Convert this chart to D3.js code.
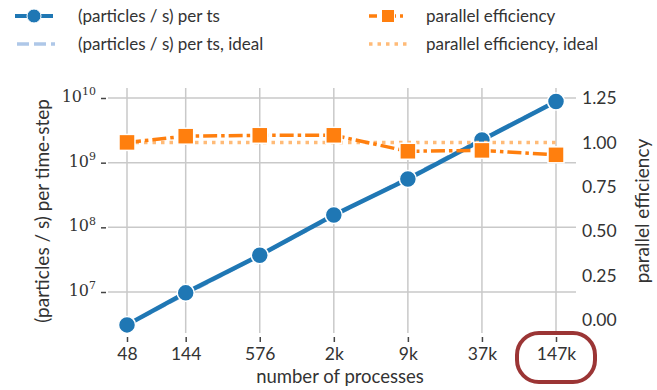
<!DOCTYPE html>
<html><head><meta charset="utf-8">
<script src="https://cdn.jsdelivr.net/npm/d3@7"></script>
<style>
body{margin:0;background:#fff;}
svg{display:block;}
text{font-family:"Lato","Liberation Sans",sans-serif;fill:#333;}
</style></head>
<body>
<svg id="chart" width="657" height="390"></svg>
<script>
// ---- data ----
const procs = [48, 144, 576, 2304, 9216, 36864, 147456];
const procLabels = ["48", "144", "576", "2k", "9k", "37k", "147k"];
const rate = [3.1e6, 9.7e6, 3.7e7, 1.55e8, 5.6e8, 2.25e9, 8.8e9];
const rateIdeal = [3.1e6, 9.3e6, 3.7e7, 1.5e8, 5.8e8, 2.3e9, 8.9e9];
const eff = [1.0, 1.035, 1.04, 1.04, 0.95, 0.955, 0.93];
const effIdeal = [1, 1, 1, 1, 1, 1, 1];
const leftTicks = [1e7, 1e8, 1e9, 1e10];
const leftTickExp = ["7", "8", "9", "10"];
const rightTicks = [0, 0.25, 0.5, 0.75, 1.0, 1.25];

const svg = d3.select("#chart");
const blue = "#1f77b4", orange = "#ff7f0e", lblue = "#aec7e8", lorange = "#ffbb78";

const x = d3.scaleLog().domain([48, 147456]).range([127, 556]);
const yL = d3.scaleLog().domain([1e7, 1e10]).range([292, 98]);
const yR = d3.scaleLinear().domain([0, 1.25]).range([320, 98]);

const plotTop = 88, plotBottom = 333, plotLeft = 108, plotRight = 576;

// grid
const grid = svg.append("g");
grid.selectAll("line.v").data(procs).join("line")
  .attr("x1", d => x(d)).attr("x2", d => x(d))
  .attr("y1", plotTop).attr("y2", plotBottom)
  .attr("stroke", "#c9c9c9").attr("stroke-width", 1.5);
grid.selectAll("line.h").data(leftTicks).join("line")
  .attr("x1", plotLeft).attr("x2", plotRight)
  .attr("y1", d => yL(d)).attr("y2", d => yL(d))
  .attr("stroke", "#c9c9c9").attr("stroke-width", 1.5);

// x axis (offset ticks)
const xAxis = d3.axisBottom(x).tickValues(procs).tickFormat((d, i) => procLabels[i]).tickSize(5).tickPadding(6);
const gx = svg.append("g").attr("transform", `translate(0,${337})`).call(xAxis);
gx.select(".domain").remove();
gx.selectAll(".tick line").attr("stroke", "#444").attr("stroke-width", 1.5);
gx.selectAll(".tick text").attr("font-size", 17.5).attr("fill", "#333").attr("font-family", "Lato, sans-serif");

// left axis
const yAxisL = d3.axisLeft(yL).tickValues(leftTicks).tickFormat("").tickSize(5);
const gyl = svg.append("g").attr("transform", `translate(${106},0)`).call(yAxisL);
gyl.select(".domain").remove();
gyl.selectAll(".tick line").attr("stroke", "#444").attr("stroke-width", 1.5);
gyl.selectAll(".tick").each(function(d, i) {
  const t = d3.select(this).append("text").attr("x", -10).attr("dy", "0.35em")
    .attr("text-anchor", "end").attr("fill", "#333")
    .style("font-family", "'DejaVu Serif','Liberation Serif',serif");
  t.append("tspan").attr("font-size", 16).text("10");
  t.append("tspan").attr("font-size", 11).attr("dy", "-0.6em").text(leftTickExp[i]);
});

// right axis
const yAxisR = d3.axisRight(yR).tickValues(rightTicks).tickFormat(d3.format(".2f")).tickSize(0).tickPadding(6);
const gyr = svg.append("g").attr("transform", `translate(${576},0)`).call(yAxisR);
gyr.select(".domain").remove();
gyr.selectAll(".tick text").attr("font-size", 17.5).attr("fill", "#333").attr("font-family", "Lato, sans-serif");

// axis titles
svg.append("text").attr("x", 340).attr("y", 383).attr("text-anchor", "middle").attr("font-size", 18.5).text("number of processes");
svg.append("text").attr("transform", "translate(49,211) rotate(-90)").attr("text-anchor", "middle").attr("font-size", 19).text("(particles / s) per time-step");
svg.append("text").attr("transform", "translate(649,211) rotate(-90)").attr("text-anchor", "middle").attr("font-size", 19).text("parallel efficiency");

// blue series
const lineL = (arr) => d3.line().x((d, i) => x(procs[i])).y(d => yL(d))(arr);
svg.append("path").attr("d", lineL(rateIdeal)).attr("fill", "none").attr("stroke", lblue).attr("stroke-width", 3.5).attr("stroke-dasharray", "11,5");
svg.append("path").attr("d", lineL(rate)).attr("fill", "none").attr("stroke", blue).attr("stroke-width", 4.5);
svg.selectAll("circle.pt").data(rate).join("circle")
  .attr("cx", (d, i) => x(procs[i])).attr("cy", d => yL(d)).attr("r", 8.5)
  .attr("fill", blue).attr("stroke", "#fff").attr("stroke-width", 1.5);

// orange series
const lineR = (arr) => d3.line().x((d, i) => x(procs[i])).y(d => yR(d))(arr);
svg.append("path").attr("d", lineR(effIdeal)).attr("fill", "none").attr("stroke", lorange).attr("stroke-width", 3.5).attr("stroke-dasharray", "3.5,5");
svg.append("path").attr("d", lineR(eff)).attr("fill", "none").attr("stroke", orange).attr("stroke-width", 3.5).attr("stroke-dasharray", "14,4,3.5,4");
const sq = 16;
svg.selectAll("rect.sq").data(eff).join("rect")
  .attr("x", (d, i) => x(procs[i]) - sq / 2).attr("y", d => yR(d) - sq / 2)
  .attr("width", sq).attr("height", sq)
  .attr("fill", orange).attr("stroke", "#fff").attr("stroke-width", 1.5);

// legend
const lg = svg.append("g");
function legendRow(x0, y0, color, width, dash, marker, label, tx) {
  lg.append("line").attr("x1", x0).attr("x2", x0 + 38).attr("y1", y0).attr("y2", y0)
    .attr("stroke", color).attr("stroke-width", width).attr("stroke-dasharray", dash);
  if (marker === "circle") lg.append("circle").attr("cx", x0 + 19).attr("cy", y0).attr("r", 7).attr("fill", color).attr("stroke", "#fff").attr("stroke-width", 1);
  if (marker === "square") lg.append("rect").attr("x", x0 + 19 - 6.5).attr("y", y0 - 6.5).attr("width", 13).attr("height", 13).attr("fill", color).attr("stroke", "#fff").attr("stroke-width", 1);
  lg.append("text").attr("x", tx).attr("y", y0).attr("dy", "0.35em").attr("font-size", 17).text(label);
}
legendRow(15, 16, blue, 4, null, "circle", "(particles / s) per ts", 78);
legendRow(17, 44, lblue, 3.5, "12,5", null, "(particles / s) per ts, ideal", 78);
legendRow(369, 16, orange, 3.5, "8,4,3,4", "square", "parallel efficiency", 426);
legendRow(369, 44, lorange, 3.5, "3.5,5", null, "parallel efficiency, ideal", 426);

// annotation box
svg.append("rect").attr("x", 517).attr("y", 333).attr("width", 78).attr("height", 49).attr("rx", 22).attr("ry", 22)
  .attr("fill", "none").attr("stroke", "#9b3535").attr("stroke-width", 4);
</script>
</body></html>
